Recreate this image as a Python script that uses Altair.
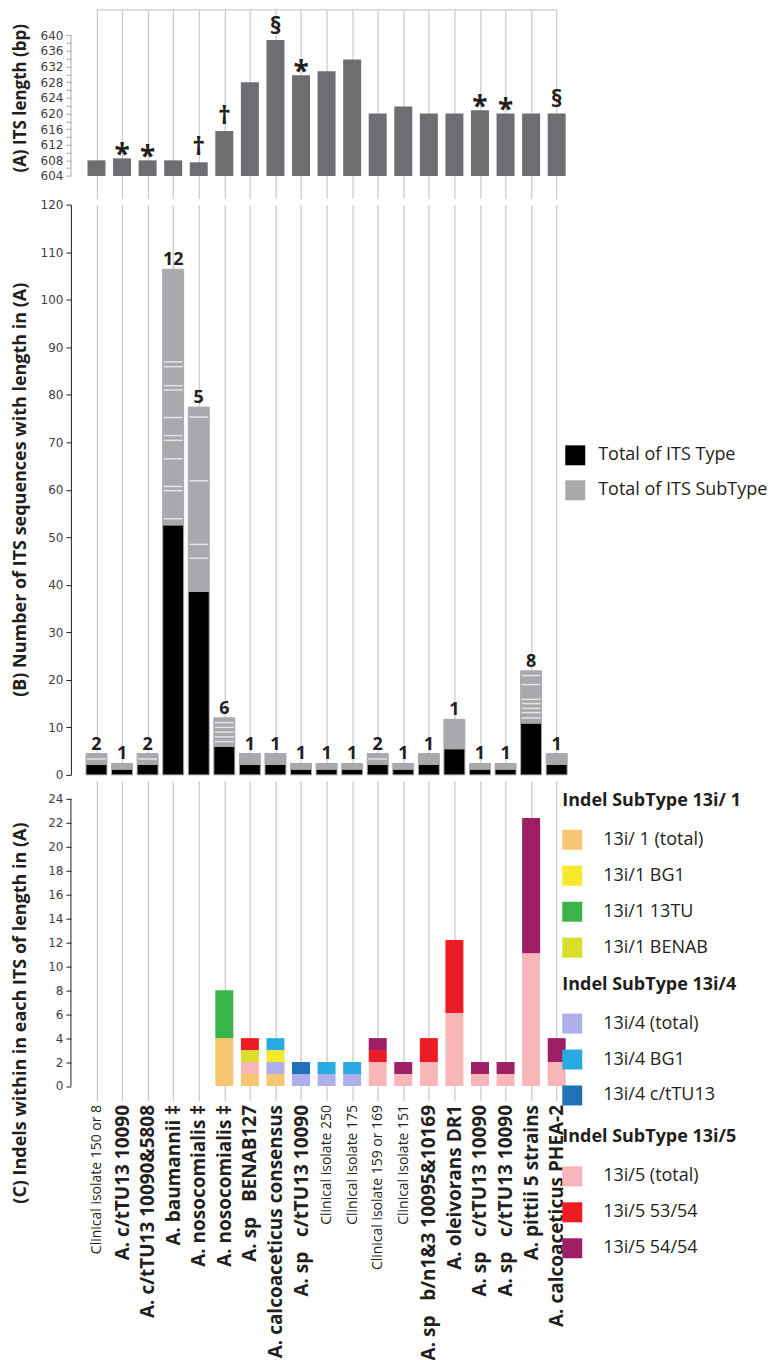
import json
import altair as alt
import pandas as pd

# ---------------- data ----------------
labels = [
    "Clinical isolate 150 or 8",
    "A. c/tTU13 10090",
    "A. c/tTU13 10090&5808",
    "A. baumannii ‡",
    "A. nosocomialis ‡",
    "A. nosocomialis ‡",
    "A. sp\u00a0\u00a0\u00a0BENAB127",
    "A. calcoaceticus consensus",
    "A. sp\u00a0\u00a0\u00a0c/tTU13 10090",
    "Clinical isolate 250",
    "Clinical isolate 175",
    "Clinical isolate 159 or 169",
    "Clinical isolate 151",
    "A. sp\u00a0\u00a0\u00a0b/n1&3 10095&10169",
    "A. oleivorans DR1",
    "A. sp\u00a0\u00a0\u00a0c/tTU13 10090",
    "A. sp\u00a0\u00a0\u00a0c/tTU13 10090",
    "A. pittii 5 strains",
    "A. calcoaceticus PHEA-2",
]
clinical_idx = [0, 9, 10, 11, 12]

# (A) ITS length
its_length = [608, 608.5, 608, 608, 607.5, 615.5, 628, 638.8, 629.8, 630.8,
              633.8, 620, 621.8, 620, 620, 620.8, 620, 620, 620]
its_mark = ["", "*", "*", "", "†", "†", "", "§", "*", "", "", "", "", "", "",
            "*", "*", "", "§"]
its_base = 604

# (B) counts
type_total = [2.2, 1.2, 2.2, 52.6, 38.6, 6.0, 2.2, 2.2, 1.2, 1.2, 1.2, 2.2, 1.2,
              2.2, 5.5, 1.2, 1.2, 10.9, 2.2]
subtype_segments = [
    [1.15, 1.15],
    [1.2],
    [1.15, 1.15],
    [1.3, 5.9, 0.9, 5.8, 3.9, 1.0, 3.8, 5.8, 0.9, 4.0, 1.0, 19.5],
    [7.0, 2.9, 13.4, 13.4, 2.1],
    [1.0, 1.0, 1.0, 1.0, 1.0, 1.0],
    [2.3],
    [2.3],
    [1.2],
    [1.2],
    [1.2],
    [1.15, 1.15],
    [1.2],
    [2.3],
    [6.2],
    [1.2],
    [1.2],
    [1.1, 1.1, 0.9, 1.0, 0.9, 3.1, 1.9, 1.0],
    [2.3],
]
subtype_count = [2, 1, 2, 12, 5, 6, 1, 1, 1, 1, 1, 2, 1, 1, 1, 1, 1, 8, 1]

# (C) indels
i1_total = [0, 0, 0, 0, 0, 4, 1, 1, 0, 0, 0, 0, 0, 0, 0, 0, 0, 0, 0]
i1_bg1 = [0, 0, 0, 0, 0, 0, 0, 1, 0, 0, 0, 0, 0, 0, 0, 0, 0, 0, 0]
i1_13tu = [0, 0, 0, 0, 0, 4, 0, 0, 0, 0, 0, 0, 0, 0, 0, 0, 0, 0, 0]
i1_benab = [0, 0, 0, 0, 0, 0, 1, 0, 0, 0, 0, 0, 0, 0, 0, 0, 0, 0, 0]
i4_total = [0, 0, 0, 0, 0, 0, 0, 1, 1, 1, 1, 0, 0, 0, 0, 0, 0, 0, 0]
i4_bg1 = [0, 0, 0, 0, 0, 0, 0, 1, 0, 1, 1, 0, 0, 0, 0, 0, 0, 0, 0]
i4_ctu = [0, 0, 0, 0, 0, 0, 0, 0, 1, 0, 0, 0, 0, 0, 0, 0, 0, 0, 0]
i5_total = [0, 0, 0, 0, 0, 0, 1, 0, 0, 0, 0, 2, 1, 2, 6.1, 1, 1, 11.1, 2]
i5_5354 = [0, 0, 0, 0, 0, 0, 1, 0, 0, 0, 0, 1, 0, 2, 6.1, 0, 0, 0, 0]
i5_5454 = [0, 0, 0, 0, 0, 0, 0, 0, 0, 0, 0, 1, 1, 0, 0, 1, 1, 11.3, 2]

indel_series = [  # (name, group, colour, values) in stacking order
    ("13i/ 1 (total)", 1, "#f7c672", i1_total),
    ("13i/4 (total)", 2, "#adaeea", i4_total),
    ("13i/5 (total)", 3, "#f8b6b9", i5_total),
    ("13i/1 BG1", 1, "#f6e92b", i1_bg1),
    ("13i/1 13TU", 1, "#3bb54a", i1_13tu),
    ("13i/1 BENAB", 1, "#d7df29", i1_benab),
    ("13i/4 BG1", 2, "#29abe2", i4_bg1),
    ("13i/4 c/tTU13", 2, "#1f72b8", i4_ctu),
    ("13i/5 53/54", 3, "#ed1c24", i5_5354),
    ("13i/5 54/54", 3, "#9e1f63", i5_5454),
]
legend_order = {
    1: ["13i/ 1 (total)", "13i/1 BG1", "13i/1 13TU", "13i/1 BENAB"],
    2: ["13i/4 (total)", "13i/4 BG1", "13i/4 c/tTU13"],
    3: ["13i/5 (total)", "13i/5 53/54", "13i/5 54/54"],
}
legend_titles = {1: "Indel SubType 13i/ 1", 2: "Indel SubType 13i/4", 3: "Indel SubType 13i/5"}
legend_y = {1: 11, 2: 195, 3: 348}

# ---------------- style ----------------
FONT = "Open Sans"
NUMFONT = "DejaVu Sans"
INK = "#231f20"
GRID = "#bcbec0"
N = len(labels)
W = 512
H_A, H_B, H_C = 189, 571, 320
TITLE_X = -50

colour_of = {s[0]: s[2] for s in indel_series}


def xchan(field="i", show=False):
    if show:
        test = f"indexof({json.dumps(clinical_idx)}, datum.value) >= 0"
        axis = alt.Axis(
            grid=True, gridColor=GRID, gridWidth=1, domain=False, ticks=False,
            tickSize=0, labelAngle=270, labelAlign="right", labelBaseline="middle",
            labelPadding=4,
            labelExpr=json.dumps(labels, ensure_ascii=False) + "[datum.value]",
            labelFont=FONT, labelColor=INK, labelLimit=0, labelOverlap=False,
            labelFontSize={"condition": {"test": test, "value": 14}, "value": 19},
            labelFontWeight={"condition": {"test": test, "value": "normal"}, "value": "bold"},
            title=None,
        )
    else:
        axis = alt.Axis(grid=True, gridColor=GRID, gridWidth=1, domain=False,
                        ticks=False, labels=False, title=None)
    return alt.X(f"{field}:O",
                 scale=alt.Scale(type="point", domain=list(range(N)), padding=1.426),
                 axis=axis)


def yaxis(values, title, title_y, tick_color, title_size=18, label_expr=None, domain=False):
    kw = dict(values=values, domain=domain, tickSize=5, tickColor=tick_color,
              labelFont=NUMFONT, labelFontSize=12, labelColor="#414042", labelPadding=3,
              grid=False, title=title, titleFont=FONT, titleFontWeight="bold",
              titleFontSize=title_size, titleColor=INK, titleX=TITLE_X, titleY=title_y,
              titleAngle=270, titleAlign="center", titleBaseline="middle")
    if domain:
        kw["domainColor"] = INK
    if label_expr:
        kw["labelExpr"] = label_expr
    return alt.Axis(**kw)


# ---------------- panel A ----------------
axA = yaxis(list(range(604, 641, 2)), "(A) ITS length (bp)", 88, "#a7a9ac", 17,
            "datum.value % 4 === 0 ? datum.label : ''")


def ya(field):
    return alt.Y(f"{field}:Q", scale=alt.Scale(domain=[598.2, 646.5], nice=False, zero=False),
                 axis=axA)


dfa = pd.DataFrame({"i": list(range(N)), "len": its_length, "base": [its_base] * N,
                    "sym": its_mark})

a_top = alt.Chart(pd.DataFrame({"i": [0], "j": [N - 1]})).mark_rule(
    color=GRID, strokeWidth=1).encode(x=xchan("i"), x2="j", y=alt.value(0))
a_dom = alt.Chart(pd.DataFrame({"lo": [604], "hi": [640]})).mark_rule(
    color="#a7a9ac").encode(x=alt.value(0), y=ya("lo"), y2="hi")
a_bars = alt.Chart(dfa).mark_bar(size=18, color="#6d6e71").encode(
    x=xchan(), y=ya("len"), y2="base")
a_layers = [a_top, a_dom, a_bars]
for sym, fs, dy in [("*", 28, 6), ("§", 24, -6), ("†", 25, -7)]:
    a_layers.append(
        alt.Chart(dfa).transform_filter(alt.datum.sym == sym).mark_text(
            font=FONT, fontWeight="bold", fontSize=fs, color=INK,
            baseline="alphabetic", dy=dy).encode(x=xchan(), y=ya("len"), text="sym:N"))
panelA = alt.layer(*a_layers).properties(width=W, height=H_A)

# ---------------- panel B ----------------
axB = yaxis(list(range(0, 121, 10)), "(B) Number of ITS sequences with length in (A)",
            285, INK, domain=True)


def yb(field):
    return alt.Y(f"{field}:Q", scale=alt.Scale(domain=[0, 120], nice=False), axis=axB)


seg_rows, sep_rows, top_rows = [], [], []
for i in range(N):
    seg_rows.append({"i": i, "kind": "Total of ITS Type", "y0": 0, "y1": type_total[i]})
    c = type_total[i]
    segs = subtype_segments[i]
    for k, s in enumerate(segs):
        seg_rows.append({"i": i, "kind": "Total of ITS SubType", "y0": c, "y1": c + s})
        c += s
        if k < len(segs) - 1:
            sep_rows.append({"i": i, "b": c})
    top_rows.append({"i": i, "top": c, "n": subtype_count[i]})

b_bars = alt.Chart(pd.DataFrame(seg_rows)).mark_bar(
    size=21, stroke="#a7a9ac", strokeWidth=1).encode(
    x=xchan(), y=yb("y0"), y2="y1",
    color=alt.Color("kind:N",
                    scale=alt.Scale(domain=["Total of ITS Type", "Total of ITS SubType"],
                                    range=["#000000", "#a7a9ac"]),
                    legend=alt.Legend(orient="none", legendX=495, legendY=241, title=None,
                                      symbolType="square", symbolSize=400,
                                      symbolStrokeWidth=0, labelFont=FONT,
                                      labelFontSize=18, labelColor=INK, labelOffset=13,
                                      labelLimit=0, rowPadding=15, padding=0)))
b_sep = alt.Chart(pd.DataFrame(sep_rows)).mark_tick(
    color="white", thickness=1.5, size=19, orient="horizontal").encode(
    x=xchan(), y=yb("b"))
b_txt = alt.Chart(pd.DataFrame(top_rows)).mark_text(
    font=FONT, fontWeight="bold", fontSize=18, color=INK, baseline="alphabetic",
    dy=-4).encode(x=xchan(), y=yb("top"), text="n:Q")
panelB = alt.layer(b_bars, b_sep, b_txt).properties(width=W, height=H_B)

# ---------------- panel C ----------------
axC = yaxis(list(range(0, 25, 2)), "(C) Indels within in each ITS of length in (A)",
            232, INK)


def yc(field):
    return alt.Y(f"{field}:Q", scale=alt.Scale(domain=[-1.21, 25.5], nice=False, zero=False),
                 axis=axC)


c_rows = []
for i in range(N):
    c = 0
    for name, grp, col, vals in indel_series:
        v = vals[i]
        if v > 0:
            c_rows.append({"i": i, "subtype": name, "group": grp, "y0": c, "y1": c + v})
            c += v
dfc = pd.DataFrame(c_rows)

c_dom = alt.Chart(pd.DataFrame({"lo": [0], "hi": [24]})).mark_rule(color=INK).encode(
    x=alt.value(0), y=yc("lo"), y2="hi")
c_layers = [c_dom]
for g in (1, 2, 3):
    dom = legend_order[g]
    c_layers.append(
        alt.Chart(dfc).transform_filter(alt.datum.group == g).mark_bar(size=18).encode(
            x=xchan(show=True), y=yc("y0"), y2="y1",
            color=alt.Color("subtype:N",
                            scale=alt.Scale(domain=dom, range=[colour_of[d] for d in dom]),
                            legend=alt.Legend(orient="none", legendX=492, legendY=legend_y[g],
                                              title=legend_titles[g], titleFont=FONT,
                                              titleFontWeight="bold", titleFontSize=18,
                                              titleColor=INK, titlePadding=20,
                                              titleLimit=0,
                                              symbolType="square", symbolSize=400,
                                              symbolStrokeWidth=0, labelFont=FONT,
                                              labelFontSize=18, labelColor=INK,
                                              labelOffset=21, labelLimit=0,
                                              rowPadding=16, padding=0))))
panelC = alt.layer(*c_layers).resolve_scale(color="independent").properties(
    width=W, height=H_C)

chart = alt.vconcat(panelA, panelB, panelC, spacing=0).resolve_scale(
    x="independent", y="independent", color="independent").properties(
    padding={"left": 3, "top": 0, "right": 0, "bottom": 0},
    background="white").configure_view(stroke=None)

chart.save("out.html", embed_options={"renderer": "svg", "actions": False})
